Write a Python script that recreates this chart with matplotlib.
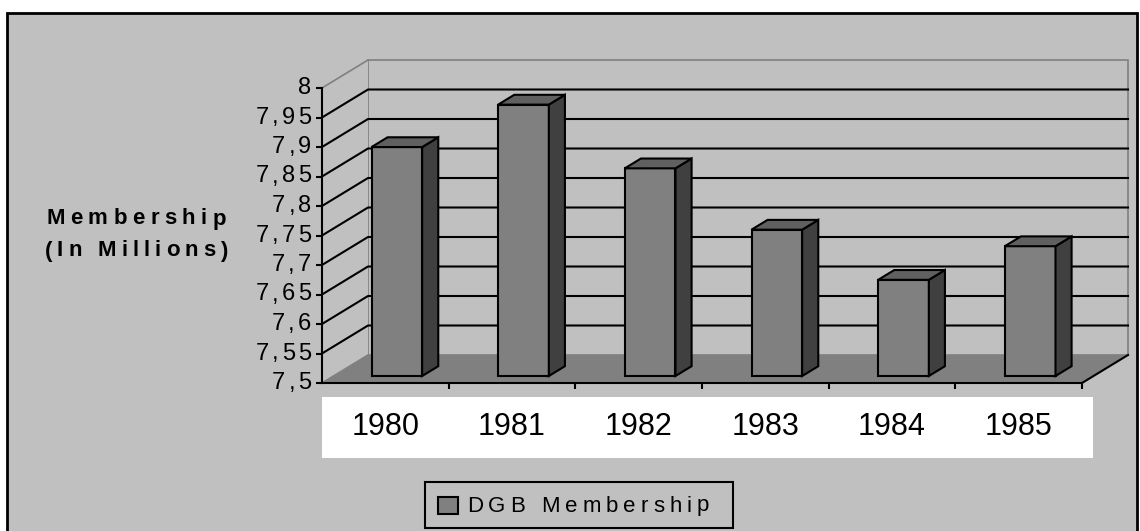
import matplotlib
matplotlib.use("Agg")
import numpy as np
import matplotlib.pyplot as plt
from matplotlib.patches import Rectangle, Polygon
from matplotlib.font_manager import FontProperties
from matplotlib.transforms import IdentityTransform


# DATA

years = ["1980", "1981", "1982", "1983", "1984", "1985"]
membership = [7.888, 7.960, 7.852, 7.748, 7.663, 7.720]   # millions
y_ticks = [7.5, 7.55, 7.6, 7.65, 7.7, 7.75, 7.8, 7.85, 7.9, 7.95, 8.0]
y_tick_labels = ["7,5", "7,55", "7,6", "7,65", "7,7", "7,75",
                 "7,8", "7,85", "7,9", "7,95", "8"]
series_name = "DGB Membership"
y_label_lines = ["Membership", "(In Millions)"]


# LOOK

W_PX, H_PX = 1140, 531
BASE, TOP = 7.5, 8.0
WALL = "#C0C0C0"
FLOOR = "#808080"
EDGE_GREY = "#808080"
FRONT = "#808080"
SIDE = "#404040"
ROOF = "#606060"
FONT = "Liberation Sans"

# depth offset of the back wall, in data units (about 46 px right, 28 px up)
DX = 46 / (760 / 6)
DY = 28 / (295 / (TOP - BASE))
D0, D1 = 0.25, 0.60      # front / back depth of the columns
BAR_W = 0.40

fig = plt.figure(figsize=(W_PX / 100, H_PX / 100), dpi=100)
fig.patch.set_facecolor("white")


def fig_rect(x0, y0, x1, y1, **kw):
    # rectangle given in pixel coords, origin top-left
    r = Rectangle((x0 / W_PX, 1 - y1 / H_PX), (x1 - x0) / W_PX, (y1 - y0) / H_PX,
                  transform=fig.transFigure, **kw)
    fig.patches.append(r)
    return r


renderer = fig.canvas.get_renderer()


def spaced_text(x, y, s, prop, gap, ha="left"):
    # draws text letter by letter (display px, origin bottom-left) with extra tracking
    widths = []
    for c in s:
        if c == " ":
            widths.append(prop.get_size_in_points() * 100 / 72 * 0.28)
        else:
            widths.append(renderer.get_text_width_height_descent(c, prop, ismath=False)[0])
    total = sum(widths) + gap * (len(s) - 1)
    if ha == "center":
        x = x - total / 2
    elif ha == "right":
        x = x - total
    for c, w in zip(s, widths):
        if c != " ":
            fig.text(x, y, c, fontproperties=prop, ha="left", va="center",
                     transform=IdentityTransform(), zorder=10)
        x += w + gap


# OUTER FRAME

fig_rect(7, 13, 1137, 560, facecolor=WALL, edgecolor="black", linewidth=2, zorder=-2)
# white category-label strip
fig_rect(322, 397, 1093, 458, facecolor="white", edgecolor="none", zorder=-1)


# PLOT AREA (front plane)

ax = fig.add_axes([322 / W_PX, 1 - 383 / H_PX, 760 / W_PX, 295 / H_PX])
ax.set_zorder(2)
ax.patch.set_visible(False)
ax.set_xlim(-0.5, len(years) - 0.5)
ax.set_ylim(BASE, TOP)
x0, x1 = ax.get_xlim()


def proj(x, v, d):
    return (x + d * DX, v + d * DY)


def poly(pts, **kw):
    p = Polygon(pts, closed=True, clip_on=False, **kw)
    ax.add_patch(p)
    return p


# floor
poly([proj(x0, BASE, 0), proj(x1, BASE, 0), proj(x1, BASE, 1), proj(x0, BASE, 1)],
     facecolor=FLOOR, edgecolor="none", zorder=0.5)
# back wall
poly([proj(x0, BASE, 1), proj(x1, BASE, 1), proj(x1, TOP, 1), proj(x0, TOP, 1)],
     facecolor=WALL, edgecolor=EDGE_GREY, linewidth=1.2, zorder=0.5)
# side wall
poly([proj(x0, BASE, 0), proj(x0, TOP, 0), proj(x0, TOP, 1), proj(x0, BASE, 1)],
     facecolor=WALL, edgecolor="none", zorder=0.5)

# grey edges of the box
for a, b in [((x0, TOP, 0), (x0, TOP, 1)), ((x0, BASE, 0), (x0, BASE, 1))]:
    pa, pb = proj(*a), proj(*b)
    ax.plot([pa[0], pb[0]], [pa[1], pb[1]], color=EDGE_GREY, lw=1.2,
            clip_on=False, zorder=0.6)

# black floor edge on the right
pa, pb = proj(x1, BASE, 0), proj(x1, BASE, 1)
ax.plot([pa[0], pb[0]], [pa[1], pb[1]], color="black", lw=1.5, clip_on=False, zorder=3)

# gridlines across side wall and back wall
for v in y_ticks[1:-1]:
    a, b, c = proj(x0, v, 0), proj(x0, v, 1), proj(x1, v, 1)
    ax.plot([a[0], b[0], c[0]], [a[1], b[1], c[1]], color="black", lw=1.5,
            clip_on=False, zorder=1)


# COLUMNS

xpos = np.arange(len(years))
heights = [v - BASE for v in membership]
ax.bar(xpos + D0 * DX, heights, bottom=BASE + D0 * DY, width=BAR_W,
       color=FRONT, edgecolor="black", linewidth=1.5, zorder=2)

for x, v in zip(xpos, membership):
    l, r = x - BAR_W / 2, x + BAR_W / 2
    poly([proj(r, BASE, D0), proj(r, BASE, D1), proj(r, v, D1), proj(r, v, D0)],
         facecolor=SIDE, edgecolor="black", linewidth=1.5, zorder=2)
    poly([proj(l, v, D0), proj(r, v, D0), proj(r, v, D1), proj(l, v, D1)],
         facecolor=ROOF, edgecolor="black", linewidth=1.5, zorder=2)


# AXES, TICKS

for s in ["top", "right"]:
    ax.spines[s].set_visible(False)
for s in ["left", "bottom"]:
    ax.spines[s].set_color("black")
    ax.spines[s].set_linewidth(1.5)
    ax.spines[s].set_zorder(3)

ax.set_yticks(y_ticks)
ax.set_yticklabels([])
ax.set_xticks(xpos + 0.5)
ax.set_xticklabels([])
ax.tick_params(axis="y", direction="out", length=4, width=1.5, color="black")
ax.tick_params(axis="x", direction="out", length=4.5, width=1.5, color="black")

fig.canvas.draw()
renderer = fig.canvas.get_renderer()

tick_prop = FontProperties(family=FONT, size=17)
for v, lab in zip(y_ticks, y_tick_labels):
    dx, dy = ax.transData.transform((x0, v))
    spaced_text(dx - 11, dy, lab, tick_prop, 3, ha="right")

for x, yr in zip(xpos, years):
    ax.text(x, -0.15, yr, transform=ax.get_xaxis_transform(), ha="center",
            va="center", fontsize=22, family=FONT, color="black", zorder=5)

# y label
lab_prop = FontProperties(family=FONT, size=16, weight="bold")
spaced_text(136, H_PX - 219, y_label_lines[0], lab_prop, 5.5, ha="center")
spaced_text(136, H_PX - 251, y_label_lines[1], lab_prop, 5.0, ha="center")


# LEGEND

fig_rect(425, 482, 733, 528, facecolor=WALL, edgecolor="black", linewidth=1.5, zorder=3)
fig_rect(438, 497, 458, 514, facecolor=FRONT, edgecolor="black", linewidth=1.5, zorder=4)
leg_prop = FontProperties(family=FONT, size=16)
spaced_text(467, H_PX - 506, series_name, leg_prop, 5)

fig.savefig("out.png", dpi=100, facecolor=fig.get_facecolor())
plt.close(fig)
